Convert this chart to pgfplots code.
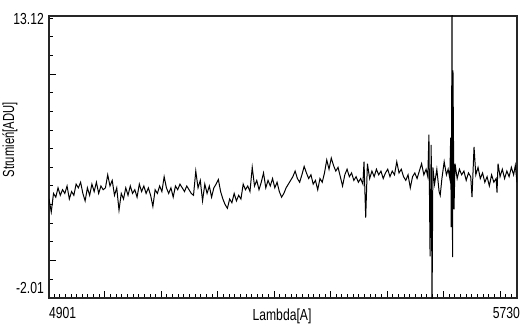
\documentclass[border=0pt]{standalone}
\usepackage{pgfplots}
\pgfplotsset{compat=1.18}
\usepackage{fontspec}
\setmainfont{Liberation Sans}[FakeStretch=0.76]
\newfontfamily\ylab{Liberation Sans}[FakeStretch=0.7]
\begin{document}
\fontsize{16bp}{18bp}\selectfont
\begin{tikzpicture}
\useasboundingbox (-49bp,-29bp) rectangle (472bp,298bp);
\begin{axis}[
  scale only axis, width=468bp, height=282bp,
  xmin=4901, xmax=5730, ymin=-2.01, ymax=13.12,
  axis line style={black!85, line width=1.3pt},
  tick pos=left, tick align=inside,
  xtick={5000,5100,5200,5300,5400,5500,5600,5700},
  minor xtick={4910,4920,...,5720},
  ytick={0,10}, minor ytick={-1,1,2,3,4,5,6,7,8,9,11,12,13},
  xticklabels={}, yticklabels={},
  major tick length=7bp, minor tick length=3.5bp,
  every tick/.style={black, line width=1pt},
  clip=true,
]
\addplot[black, line width=1pt, mark=none] coordinates {
(4901,3.3)(4905,2.6)(4909,3.6)(4913,3.4)(4917,3.9)(4921,3.5)(4925,3.8)(4929,3.6)(4933,4.0)(4937,3.3)
(4941,3.7)(4945,3.5)(4949,4.1)(4953,3.9)(4957,4.2)(4961,3.6)(4965,3.2)(4969,3.9)(4973,3.5)(4977,4.1)
(4981,3.7)(4985,4.2)(4989,3.6)(4993,4.0)(4997,3.8)(5001,3.9)(5005,4.6)(5009,4.0)(5013,4.3)(5017,3.5)
(5021,3.9)(5025,2.7)(5029,3.6)(5033,3.3)(5037,3.9)(5041,3.5)(5045,4.0)(5049,3.6)(5053,3.8)(5057,3.4)
(5061,4.1)(5065,3.7)(5069,4.0)(5073,3.6)(5077,3.9)(5081,3.5)(5085,2.9)(5089,3.8)(5093,3.6)(5097,4.0)
(5101,3.7)(5105,4.5)(5109,3.9)(5113,3.6)(5117,3.9)(5121,3.4)(5125,4.0)(5129,3.8)(5133,4.1)(5137,3.9)
(5141,3.7)(5145,4.0)(5149,3.8)(5153,3.6)(5157,3.5)(5161,4.8)(5165,3.9)(5169,4.3)(5173,3.2)(5177,4.1)
(5181,3.6)(5185,4.0)(5189,3.4)(5193,3.9)(5197,4.1)(5201,4.35)(5205,3.7)(5209,3.3)(5213,3.0)(5217,2.8)
(5221,3.3)(5225,3.1)(5229,3.6)(5233,3.2)(5237,3.5)(5241,3.3)(5245,4.1)(5249,3.8)(5253,4.0)(5257,3.7)
(5261,5.0)(5265,4.0)(5269,4.3)(5273,3.8)(5277,4.2)(5281,4.7)(5285,3.9)(5289,4.3)(5293,4.0)(5297,4.4)
(5301,3.9)(5305,4.2)(5309,3.7)(5313,3.4)(5317,3.6)(5321,3.9)(5325,4.1)(5329,4.3)(5333,4.5)(5337,4.8)
(5341,4.4)(5345,4.2)(5349,4.6)(5353,5.05)(5357,4.7)(5361,4.4)(5365,4.6)(5369,4.1)(5373,4.3)(5377,3.8)
(5381,4.4)(5385,4.2)(5389,4.7)(5393,5.4)(5397,4.9)(5401,5.5)(5405,5.1)(5409,4.8)(5413,5.0)(5417,4.5)
(5421,4.0)(5425,4.6)(5429,4.9)(5433,4.5)(5437,4.7)(5441,4.3)(5445,4.5)(5449,4.2)(5453,4.4)(5457,4.1)
(5459,5.3)(5462,2.3)(5465,5.2)(5469,4.4)(5473,4.8)(5477,4.5)(5481,4.9)(5485,4.6)
(5489,4.8)(5493,4.4)(5497,4.7)(5501,4.9)(5505,4.5)(5509,4.8)(5513,4.6)(5517,5.3)(5521,4.7)(5525,4.9)
(5529,4.5)(5533,4.3)(5537,4.6)(5541,3.9)(5545,4.5)(5549,4.7)(5553,4.4)(5557,4.8)(5561,5.2)(5565,4.6)
(5569,4.9)(5572,4.5)(5574,6.76)(5576,0.23)(5578,6.2)(5579.5,-2.5)(5581,5.0)(5584,4.1)(5588,4.9)(5592,3.7)
(5594,3.5)(5597,4.4)(5601,5.3)(5605,4.6)(5608,4.9)(5611,4.4)(5612.5,6.6)(5613.5,1.79)(5614.9,13.5)(5615.8,0.18)
(5616.6,10.2)(5618.4,2.75)(5620.2,5.2)(5624,4.4)(5628,4.9)(5632,4.6)(5636,4.8)(5640,4.3)(5644,4.7)(5648,4.5)
(5650.3,3.4)(5653.9,6.1)(5657,4.6)(5661,5.0)(5665,4.4)(5669,4.7)(5673,4.2)(5677,4.5)(5681,4.0)(5685,4.6)
(5689,4.2)(5693,4.4)(5694.6,3.65)(5696.4,5.2)(5700,4.5)(5704,4.9)(5708,4.4)(5712,4.8)(5716,4.5)(5720,5.0)
(5724,4.6)(5727,5.1)(5730,4.2)
};
\end{axis}
\node[anchor=east, inner sep=0pt] at (-5bp,279bp) {13.12};
\node[anchor=east, inner sep=0pt] at (-5bp,10bp) {-2.01};
\node[anchor=west, inner sep=0pt] at (0bp,-15bp) {4901};
\node[anchor=east, inner sep=0pt] at (471bp,-15bp) {5730};
\node[inner sep=0pt] at (233bp,-18bp) {Lambda[A]};
\node[inner sep=0pt, rotate=90, font=\ylab] at (-39bp,158bp) {Strumień[ADU]};
\end{tikzpicture}
\end{document}
